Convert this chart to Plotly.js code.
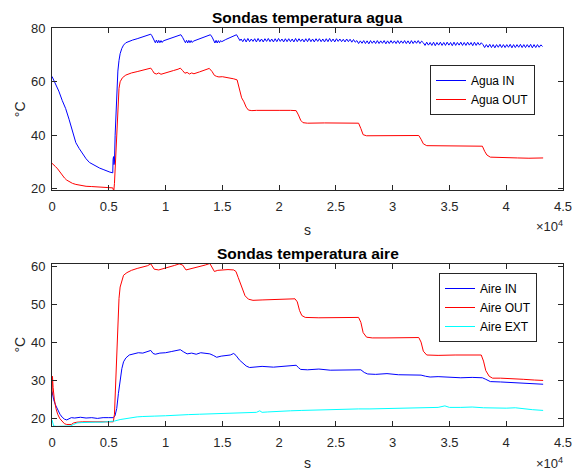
<!DOCTYPE html>
<html>
<head>
<meta charset="utf-8">
<script src="https://cdn.plot.ly/plotly-3.0.1.min.js"></script>
<style>html,body{margin:0;padding:0;background:#fff;}#chart{width:579px;height:472px;}</style>
</head>
<body>
<div id="chart"></div>
<script>
// ---------- DATA ----------
const titleTop = "Sondas temperatura agua";
const titleBottom = "Sondas temperatura aire";
const xLabel = "s";
const yLabel = "°C";
const xTickVals = [0, 5000, 10000, 15000, 20000, 25000, 30000, 35000, 40000, 45000];
const xTickText = ["0", "0.5", "1", "1.5", "2", "2.5", "3", "3.5", "4", "4.5"];
const yTickTop = [20, 40, 60, 80];
const yTickBottom = [20, 30, 40, 50, 60];

// Agua IN: explicit part (start-up and peaks)
const tAguaIn = [0,300,600,900,1200,1500,1800,2100,2400,2700,3000,3300,3600,3900,4200,4500,4800,5100,5300,5350,5380,5420,5460,5500,5560,5620,5700,5800,5900,6000,6150,6300,6500,6800,7100,7500,7900,8300,8600,8700,8800,8900,9000,9100,9200,9300,9400,9500,9600,9700,9800,10200,10600,11000,11250,11350,11500,11650,11750,11850,11950,12050,12150,12250,12350,12450,12800,13200,13600,13850,13950,14100,14250,14350,14450,14550,14650,14750,14850,14950,15300,15700,16000,16150,16250,16400,16550,16650];
const aguaIn = [62,59.5,56.5,53,50,46,42,37.2,35,33,31.2,29.8,29,28.3,27.7,27.2,26.6,26.2,26,25.9,31,32,29,30,40,48,55,64,68,70.5,72.5,73.7,74.6,75.2,75.6,76.1,76.6,77.1,77.6,77.8,77.2,76.3,75.4,74.6,75.6,74.5,75.5,74.6,75.4,74.7,75.3,75.9,76.5,77.1,77.7,77.6,76.6,75.3,74.6,75.5,74.5,75.5,74.6,75.4,74.7,75.2,75.8,76.5,77.2,77.7,77.6,76.7,75.4,74.5,75.5,74.5,75.4,74.6,75.4,75.0,75.8,76.6,77.2,77.7,77.6,76.5,75.4,76.0];
// Agua IN: steady oscillating part, sampled every 150 s from 16650 s
const aguaInOscStart = 16650;
const aguaInOscStep = 150;
const aguaInOsc = [
76.0,75.0,76.1,74.9,76.2,75.0,76.0,75.1,76.1,74.9,
76.2,75.0,76.0,74.9,76.1,75.1,76.2,75.0,76.0,74.9,
76.1,75.0,76.2,75.1,76.0,74.9,76.1,75.0,76.1,75.0,
76.0,74.9,76.2,75.0,76.1,75.1,76.0,74.9,76.1,75.0,
76.2,75.0,76.0,74.9,76.1,75.1,76.1,75.0,76.0,74.9,
76.1,75.0,76.2,75.0,76.0,74.9,76.1,75.1,76.0,75.0,
75.9,74.9,76.0,75.0,75.9,74.8,75.8,74.8,
75.4,74.3,75.3,74.4,75.4,74.3,75.3,74.2,75.4,74.4,
75.3,74.3,75.4,74.3,75.3,74.4,75.4,74.2,75.3,74.3,
75.4,74.4,75.3,74.3,75.4,74.3,75.3,74.4,75.4,74.3,
75.3,74.2,75.4,74.3,75.3,74.4,75.4,74.3,75.2,
74.6,73.6,74.8,73.7,74.7,73.6,74.8,73.5,74.7,73.7,
74.8,73.6,74.7,73.6,74.8,73.7,74.7,73.5,74.8,73.6,
74.7,73.7,74.8,73.6,74.7,73.6,74.8,73.7,74.7,73.5,
74.8,73.6,74.7,73.7,74.6,
73.9,72.8,73.9,72.9,74.0,72.8,73.9,72.7,73.9,72.9,
74.0,72.8,73.9,72.8,73.9,72.9,74.0,72.7,73.9,72.8,
73.9,72.9,74.0,72.8,73.9,72.8,73.9,72.9,74.0,72.7,
73.9,72.8,73.9,72.9,73.8,73.2];

const tAguaOut = [0,150,300,500,700,900,1100,1300,1500,1800,2100,2500,3000,3500,4000,4500,5000,5350,5400,5450,5500,5600,5700,5800,5900,6000,6200,6500,7000,7500,8000,8500,8700,8850,9000,9200,9400,9600,9800,10200,10700,11100,11300,11500,11700,11900,12100,12300,12500,13000,13500,13850,14100,14300,14500,14700,15000,15500,16000,16300,16500,16700,16900,17100,17300,17600,18000,19000,20000,21000,21500,21700,21900,22100,22500,24000,25500,27000,27200,27400,27700,29000,31000,32300,32500,32700,33000,34500,36000,37900,38100,38300,38600,39500,41000,42000,43250];
const aguaOut = [29.5,29,28.3,27.4,26.2,25,24,23.2,22.6,22,21.6,21.2,20.9,20.8,20.6,20.5,20.4,20.3,19.6,19.5,22,30,41,51,57.5,60,61.5,62.5,63.3,63.8,64.3,64.8,65.1,64.2,63.2,62.9,63.3,62.8,63.1,63.6,64.2,64.7,65.1,64.2,63.2,63.5,62.9,63.3,63.0,63.7,64.4,65.0,63.8,62.4,62.0,61.8,61.9,61.6,61.1,60.7,57,54,52.5,50.5,49.4,49.2,49.3,49.2,49.3,49.3,49.2,47.6,45.6,44.7,44.5,44.6,44.5,44.5,42.5,40.2,39.8,39.9,39.8,39.9,38.5,36.8,36.1,36.0,36.0,35.9,34.0,32.6,31.8,31.6,31.5,31.4,31.5];

const tAireIn = [0,60,150,300,500,700,900,1100,1300,1500,1700,2000,2500,3000,3500,4000,4500,5000,5400,5550,5700,5850,6000,6150,6300,6500,6800,7200,7600,8000,8400,8700,8900,9100,9500,10000,10500,11000,11300,11600,11900,12300,12700,13100,13500,13900,14200,14500,14900,15300,15700,16000,16200,16500,16800,17100,17400,17800,18500,19500,20500,21200,21500,21700,21900,22500,23500,24500,25500,26500,27200,27500,27800,28500,29500,30500,31500,32500,32900,33300,34000,35000,36000,37000,37900,38200,38600,39500,40500,41500,42500,43250];
const aireIn = [27,26,24.8,23.5,22.1,21,20.2,19.7,19.5,19.8,20.1,20.0,20.2,20.0,20.1,19.9,20.1,20.1,20.1,20.6,22.5,26.5,30.5,33,34.8,35.8,36.6,37.0,37.2,37.1,37.4,37.8,37.0,36.8,37.1,37.2,37.5,37.8,38.0,37.4,36.9,37.1,36.8,37.2,37.0,36.9,36.5,36.0,36.3,36.4,36.6,37.0,36.5,35.3,34.4,33.7,33.3,33.4,33.6,33.4,33.6,33.8,33.9,33.3,32.8,32.7,32.9,32.6,32.7,32.8,32.7,32.0,31.6,31.5,31.7,31.4,31.3,31.3,31.0,30.8,30.9,30.7,30.6,30.7,30.6,30.2,29.6,29.5,29.3,29.2,29.0,28.9];

const tAireOut = [0,40,100,200,350,500,700,900,1100,1300,1500,1700,1900,2200,2700,3200,3700,4200,4700,5200,5400,5500,5600,5700,5800,5900,6000,6150,6300,6600,7000,7500,8000,8400,8700,8850,9000,9400,9800,10300,10800,11200,11500,11800,12100,12500,13000,13500,13900,14100,14300,14600,15000,15500,16000,16200,16400,16600,16800,17000,17300,17700,18500,19500,20500,21400,21600,21800,22000,22300,23500,25000,26500,27000,27200,27400,27700,28200,29500,31000,32300,32500,32700,33000,34000,35500,37000,37800,38000,38200,38500,38800,39500,40500,41500,42500,43250];
const aireOut = [26,31,28,25,22.5,21,19.8,19.0,18.5,18.3,18.2,18.3,18.7,18.9,19.0,19.0,19.1,19.0,19.1,19.1,19.0,21,28,38,46.5,51.5,54.5,56.5,57.6,58.3,58.9,59.4,59.8,60.1,60.6,59.8,59.2,59.0,59.3,59.7,60.2,60.6,60.3,59.0,59.2,59.5,59.9,60.3,60.7,59.6,58.6,58.9,59.0,59.1,59.0,58.6,57.0,55.2,53.5,52.2,51.3,51.0,51.1,51.2,51.3,51.4,50.6,48.3,47.0,46.5,46.4,46.5,46.5,46.5,45.2,42.5,41.3,41.1,41.1,41.2,41.2,40.0,37.6,36.6,36.5,36.6,36.7,36.6,35.0,32.5,31.0,30.5,30.5,30.4,30.2,30.0,29.9];

const tAireExt = [0,60,150,400,800,1200,1600,1900,2200,2600,3200,3800,4400,5000,5500,6000,6500,7000,7500,8000,8500,9000,10000,11000,12000,13000,14000,15000,16000,17000,18000,18300,18500,19000,20000,21000,22000,23000,24000,25000,26000,27000,28000,29000,30000,31000,32000,33000,34000,34600,35000,36000,37000,38000,39000,40000,40800,41500,42300,43250];
const aireExt = [19.5,18.5,17.9,17.8,17.8,17.8,17.9,18.3,18.7,18.8,18.9,18.9,18.9,19.0,19.2,19.6,19.9,20.2,20.3,20.4,20.5,20.5,20.6,20.8,20.9,21.0,21.1,21.2,21.2,21.4,21.5,21.9,21.5,21.6,21.8,21.9,22.0,22.1,22.2,22.2,22.3,22.4,22.4,22.5,22.6,22.5,22.6,22.7,22.8,23.2,22.8,22.8,22.9,22.7,22.6,22.6,22.7,22.4,22.2,22.0];

// ---------- STYLE ----------
const FONT = "Liberation Sans, Arial, Helvetica, sans-serif";
const INK = "#262626";
const BLUE = "#0000ff", RED = "#ff0000", CYAN = "#00ffff";

const traces = [
  {x: tAguaIn, y: aguaIn, name: "Agua IN", type: "scatter", mode: "lines",
   line: {color: BLUE, width: 1}, xaxis: "x", yaxis: "y", legend: "legend"},
  {x0: aguaInOscStart, dx: aguaInOscStep, y: aguaInOsc, name: "Agua IN", showlegend: false,
   type: "scatter", mode: "lines", line: {color: BLUE, width: 1}, xaxis: "x", yaxis: "y", legend: "legend"},
  {x: tAguaOut, y: aguaOut, name: "Agua OUT", type: "scatter", mode: "lines",
   line: {color: RED, width: 1}, xaxis: "x", yaxis: "y", legend: "legend"},
  {x: tAireIn, y: aireIn, name: "Aire IN", type: "scatter", mode: "lines",
   line: {color: BLUE, width: 1}, xaxis: "x2", yaxis: "y2", legend: "legend2"},
  {x: tAireOut, y: aireOut, name: "Aire OUT", type: "scatter", mode: "lines",
   line: {color: RED, width: 1}, xaxis: "x2", yaxis: "y2", legend: "legend2"},
  {x: tAireExt, y: aireExt, name: "Aire EXT", type: "scatter", mode: "lines",
   line: {color: CYAN, width: 1}, xaxis: "x2", yaxis: "y2", legend: "legend2"}
];

function xAxis(standoff) {
  return {
    domain: [52/579, 563/579], range: [0, 45000], tickmode: "array",
    tickvals: xTickVals, ticktext: xTickText, ticks: "inside", ticklen: 5,
    tickcolor: INK, showline: true, linecolor: INK, linewidth: 1, mirror: "ticks",
    showgrid: false, zeroline: false, tickfont: {family: FONT, size: 13, color: INK},
    ticklabelstandoff: 4,
    title: {text: xLabel, font: {family: FONT, size: 14, color: INK}, standoff: standoff}
  };
}
function yAxis(domain, range, ticks) {
  return {
    domain: domain, range: range, tickmode: "array", tickvals: ticks,
    ticks: "inside", ticklen: 5, tickcolor: INK, showline: true, linecolor: INK, linewidth: 1,
    mirror: "ticks", showgrid: false, zeroline: false,
    tickfont: {family: FONT, size: 13, color: INK}, ticklabelstandoff: 3,
    title: {text: yLabel, font: {family: FONT, size: 14, color: INK}, standoff: 2}
  };
}

const legendStyle = {xanchor: "left", yanchor: "top", bgcolor: "#ffffff", bordercolor: INK, borderwidth: 1,
  font: {family: FONT, size: 12, color: "#000"}, itemwidth: 30, tracegroupgap: 0, traceorder: "normal"};

const layout = {
  width: 579, height: 472, margin: {l: 0, r: 0, t: 0, b: 0},
  paper_bgcolor: "#ffffff", plot_bgcolor: "#ffffff",
  font: {family: FONT, color: INK},
  xaxis: Object.assign(xAxis(12), {anchor: "y"}),
  yaxis: Object.assign(yAxis([1 - 190.3/472, 1 - 28.3/472], [19.4, 80], yTickTop), {anchor: "x"}),
  xaxis2: Object.assign(xAxis(9), {anchor: "y2"}),
  yaxis2: Object.assign(yAxis([1 - 426/472, 1 - 263.5/472], [17.9, 60.7], yTickBottom), {anchor: "x2"}),
  legend: Object.assign({x: 430/579, y: 1 - 65/472}, legendStyle),
  legend2: Object.assign({x: 439/579, y: 1 - 273/472}, legendStyle),
  annotations: [
    {text: "<b>" + titleTop + "</b>", xref: "paper", yref: "paper", x: 307.5/579, y: 1 - 17.5/472,
     xanchor: "center", yanchor: "middle", showarrow: false, font: {family: FONT, size: 15.5, color: "#000"}},
    {text: "<b>" + titleBottom + "</b>", xref: "paper", yref: "paper", x: 307.5/579, y: 1 - 253.5/472,
     xanchor: "center", yanchor: "middle", showarrow: false, font: {family: FONT, size: 15.5, color: "#000"}},
    {text: "×10<sup>4</sup>", xref: "paper", yref: "paper", x: 565/579, y: 1 - 226/472,
     xanchor: "right", yanchor: "middle", showarrow: false, font: {family: FONT, size: 13, color: INK}},
    {text: "×10<sup>4</sup>", xref: "paper", yref: "paper", x: 565/579, y: 1 - 463/472,
     xanchor: "right", yanchor: "middle", showarrow: false, font: {family: FONT, size: 13, color: INK}}
  ]
};

Plotly.newPlot("chart", traces, layout, {staticPlot: true, displayModeBar: false});
</script>
</body>
</html>
